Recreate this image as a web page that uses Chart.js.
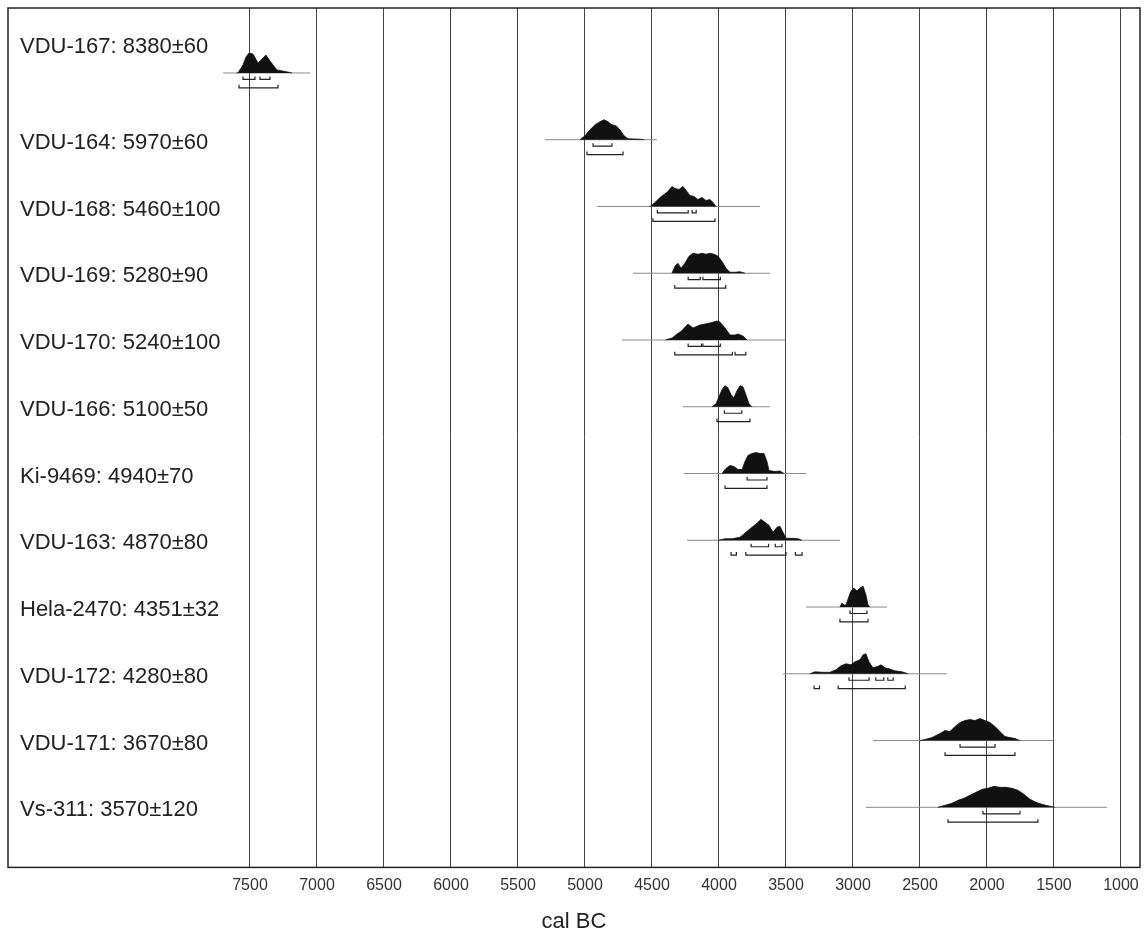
<!DOCTYPE html>
<html>
<head>
<meta charset="utf-8">
<script src="https://cdn.jsdelivr.net/npm/chart.js@4/dist/chart.umd.min.js"></script>
<style>
html,body{margin:0;padding:0;background:#fff;}
#wrap{width:1145px;height:938px;position:relative;}
</style>
</head>
<body>
<div id="wrap"><canvas id="c" width="1145" height="938"></canvas></div>
<script>
// ---------- DATA ----------
const sampleLabels = [
  'VDU-167: 8380±60','VDU-164: 5970±60','VDU-168: 5460±100','VDU-169: 5280±90',
  'VDU-170: 5240±100','VDU-166: 5100±50','Ki-9469: 4940±70','VDU-163: 4870±80',
  'Hela-2470: 4351±32','VDU-172: 4280±80','VDU-171: 3670±80','Vs-311: 3570±120'
];
const xTickValues = [7500,7000,6500,6000,5500,5000,4500,4000,3500,3000,2500,2000,1500,1000];

// radiocarbon (uncalibrated) span line per sample, cal BC
const c14LineFrom = [7700,5299,4910,4642,4724,4269,4261,4239,3351,3522,2851,2903];
const c14LineTo   = [7052,4463,3694,3619,3508,3619,3351,3097,2746,2299,1507,1105];

// calibrated probability distributions: [cal BC, relative probability]
const probVDU167 = [[7600,0],[7590,0],[7552,8],[7530,16],[7507,20],[7478,19],[7440,10],[7410,14],[7381,18],[7351,12],[7299,3],[7239,1.5],[7187,0]];
const probVDU164 = [[5037,0],[5000,4],[4963,10],[4925,15],[4888,18],[4858,20],[4828,18],[4799,15],[4769,14],[4739,10],[4709,4],[4679,1],[4590,0.5],[4560,0]];
const probVDU168 = [[4515,0],[4478,4],[4440,9],[4410,12],[4381,15],[4351,20],[4328,18],[4299,17],[4269,20],[4239,15],[4216,11],[4187,10],[4157,7],[4127,9],[4097,6],[4067,7],[4045,4],[4022,0]];
const probVDU169 = [[4351,0],[4328,7],[4306,10],[4284,5],[4254,10],[4224,17],[4194,20],[4157,19],[4127,20],[4097,19],[4067,20],[4037,19],[4007,17],[3978,12],[3948,5],[3918,1],[3881,1],[3843,1.5],[3806,0]];
const probVDU170 = [[4400,0],[4350,2],[4313,6],[4280,9],[4231,16],[4194,12],[4142,15],[4104,16],[4067,17],[4015,19],[3993,18],[3955,12],[3918,5],[3880,5],[3858,6],[3821,4],[3791,0]];
const probVDU166 = [[4052,0],[4022,3],[4000,10],[3978,17],[3955,21],[3933,19],[3910,12],[3888,9],[3866,16],[3843,21],[3821,20],[3799,12],[3776,3],[3754,0]];
const probKi9469 = [[3978,0],[3948,5],[3918,8],[3888,7],[3858,4],[3828,4],[3806,12],[3784,18],[3754,20],[3724,21],[3694,20],[3664,20],[3642,12],[3627,3],[3582,2],[3545,2.5],[3515,0]];
const probVDU163 = [[4007,0],[3955,1.5],[3903,1.5],[3843,3],[3799,8],[3754,13],[3716,17],[3687,21],[3657,18],[3627,15],[3597,8],[3567,13],[3545,14],[3522,8],[3500,2],[3455,2],[3410,1.5],[3381,0]];
const probHela2470 = [[3097,0],[3082,4],[3067,2],[3052,2],[3037,8],[3015,16],[2993,19],[2970,16],[2948,19],[2925,21],[2903,12],[2888,2],[2873,0]];
const probVDU172 = [[3321,0],[3284,2],[3231,1.5],[3172,1.5],[3127,4],[3090,8],[3052,10],[3015,9],[2985,12],[2948,14],[2925,19],[2903,20],[2881,12],[2851,6],[2821,7],[2791,9],[2761,6],[2731,5],[2687,3],[2634,2],[2590,0]];
const probVDU171 = [[2500,0],[2463,1],[2410,3],[2351,7],[2313,10],[2276,9],[2239,14],[2201,18],[2164,20],[2127,21],[2090,20],[2052,22],[2015,20],[1978,18],[1940,14],[1903,9],[1866,4],[1828,3],[1791,2],[1754,0]];
const probVs311 = [[2366,0],[2313,2],[2261,4],[2216,7],[2172,9],[2127,12],[2082,15],[2037,18],[1993,19],[1948,21],[1903,20],[1858,20],[1813,19],[1769,17],[1724,13],[1679,8],[1634,5],[1590,3],[1545,1.5],[1493,0]];

// 68.2% and 95.4% ranges, cal BC
const range68 = [
  [[7552,7463],[7425,7351]], [[4940,4799]], [[4460,4230],[4200,4170]], [[4230,4140],[4120,3990]],
  [[4230,4130],[4120,3990]], [[3960,3830]], [[3790,3642]], [[3760,3630],[3580,3530]],
  [[3022,2896]], [[3030,2880],[2830,2770],[2740,2700]], [[2201,1940]], [[2030,1754]]
];
const range95 = [
  [[7582,7291]], [[4985,4716]], [[4493,4030]], [[4330,3950]],
  [[4330,3900],[3880,3800]], [[4015,3769]], [[3955,3642]], [[3910,3870],[3800,3500],[3430,3380]],
  [[3097,2888]], [[3290,3250],[3110,2610]], [[2313,1791]], [[2291,1620]]
];

const distributions = [probVDU167,probVDU164,probVDU168,probVDU169,probVDU170,probVDU166,probKi9469,probVDU163,probHela2470,probVDU172,probVDU171,probVs311];

// ---------- STYLE / BUILD ----------
const PROB_SCALE = 1/66.8;      // probability units -> row units
const OFF68 = 0.097, OFF95 = 0.222, TICK = 0.045;
const FONT = '"Liberation Sans", Arial, Helvetica, sans-serif';

const datasets = [];
sampleLabels.forEach((lab, i) => {
  const row = i + 1;
  datasets.push({
    data: [{x: c14LineFrom[i], y: row}, {x: c14LineTo[i], y: row}],
    borderColor: '#8a8a8a', borderWidth: 1, pointRadius: 0, fill: false, order: 3
  });
  datasets.push({
    data: distributions[i].map(p => ({x: p[0], y: row - p[1]*PROB_SCALE})),
    borderColor: '#111', backgroundColor: '#111', borderWidth: 0.8,
    pointRadius: 0, fill: {value: row}, order: 2
  });
  [[range68[i], OFF68], [range95[i], OFF95]].forEach(([ranges, off]) => {
    ranges.forEach(r => {
      datasets.push({
        data: [{x: r[0], y: row + off - TICK}, {x: r[0], y: row + off},
               {x: r[1], y: row + off}, {x: r[1], y: row + off - TICK}],
        borderColor: '#222', borderWidth: 1.2, pointRadius: 0, fill: false, order: 1
      });
    });
  });
});

const labelPlugin = {
  id: 'rowLabels',
  afterDatasetsDraw(chart) {
    const {ctx, chartArea, scales} = chart;
    ctx.save();
    ctx.font = '22px ' + FONT;
    ctx.fillStyle = '#222';
    ctx.textBaseline = 'middle';
    sampleLabels.forEach((lab, i) => {
      const y = scales.y.getPixelForValue(i + 1) + (i === 0 ? -26 : 3);
      ctx.fillText(lab, chartArea.left + 12, y);
    });
    ctx.restore();
  },
  afterDraw(chart) {
    const {ctx, chartArea} = chart;
    ctx.save();
    ctx.strokeStyle = '#222';
    ctx.lineWidth = 1.5;
    ctx.strokeRect(chartArea.left, chartArea.top, chartArea.right - chartArea.left, chartArea.bottom - chartArea.top);
    ctx.restore();
  }
};

new Chart(document.getElementById('c'), {
  type: 'line',
  data: {datasets},
  plugins: [labelPlugin],
  options: {
    responsive: false,
    animation: false,
    events: [],
    layout: {padding: {left: 8, right: 5, top: 8, bottom: 0}},
    plugins: {legend: {display: false}, tooltip: {enabled: false}},
    elements: {line: {tension: 0}},
    scales: {
      x: {
        type: 'linear', min: 858, max: 9306, reverse: true,
        afterBuildTicks: axis => { axis.ticks = xTickValues.map(v => ({value: v})); },
        afterFit: axis => { axis.paddingRight = 0; axis.paddingLeft = 0; },
        grid: {color: '#444', lineWidth: 1, drawTicks: false},
        border: {display: false},
        ticks: {font: {size: 16, family: FONT}, color: '#333', padding: 9, autoSkip: false, maxRotation: 0,
                callback: v => String(v)},
        title: {display: true, text: 'cal BC', font: {size: 22, family: FONT}, color: '#222', padding: {top: 4, bottom: 3}}
      },
      y: {
        type: 'linear', min: 0.027, max: 12.9, reverse: true, display: false
      }
    }
  }
});
</script>
</body>
</html>
